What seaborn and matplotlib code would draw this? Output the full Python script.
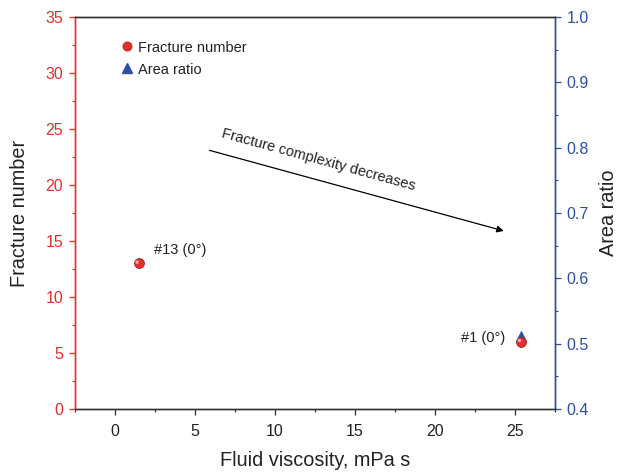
import matplotlib
matplotlib.use("Agg")
import matplotlib.pyplot as plt
from matplotlib.lines import Line2D
from matplotlib.ticker import MultipleLocator, FormatStrFormatter
import seaborn as sns
import pandas as pd

# Samples: fluid viscosity (mPa s), fracture number, area ratio
samples = ["#13 (0°)", "#1 (0°)"]
viscosity = [1.5, 25.4]
fracture_number = [13, 6]
area_viscosity = [25.4]
area_ratio = [0.512]

RED = "#e3302c"
BLUE = "#2b4fa3"

sns.set_style("ticks")
plt.rcParams["font.family"] = ["Liberation Sans", "DejaVu Sans"]

fig = plt.figure(figsize=(6.22, 4.73), dpi=100)
ax = fig.add_axes([0.1206, 0.1353, 0.7717, 0.8287])
ax2 = ax.twinx()

df_fn = pd.DataFrame({"visc": viscosity, "fn": fracture_number})
df_ar = pd.DataFrame({"visc": area_viscosity, "ar": area_ratio})

# area ratio (triangles) on the right axis, drawn beneath the spheres
sns.scatterplot(data=df_ar, x="visc", y="ar", ax=ax2, marker="^", s=55,
                color=BLUE, edgecolor=BLUE, linewidth=0.5, zorder=2)
ax2.set_zorder(ax.get_zorder() - 1)
ax.patch.set_visible(False)

# fracture number (shaded spheres) on the left axis
sns.scatterplot(data=df_fn, x="visc", y="fn", ax=ax, marker="o", s=50,
                color=RED, edgecolor="#b01c1a", linewidth=0.6, zorder=3)
ax.scatter([v - 0.12 for v in viscosity], [f + 0.12 for f in fracture_number],
           s=6, color="#ffb0a8", edgecolor="none", zorder=4)

ax.set_xlim(-2.5, 27.5)
ax.set_ylim(0, 35)
ax2.set_ylim(0.4, 1.0)

ax.xaxis.set_major_locator(MultipleLocator(5))
ax.xaxis.set_minor_locator(MultipleLocator(2.5))
ax.yaxis.set_major_locator(MultipleLocator(5))
ax.yaxis.set_minor_locator(MultipleLocator(2.5))
ax2.yaxis.set_major_locator(MultipleLocator(0.1))
ax2.yaxis.set_minor_locator(MultipleLocator(0.05))
ax2.yaxis.set_major_formatter(FormatStrFormatter("%.1f"))

for a in (ax, ax2):
    a.tick_params(which="major", direction="out", length=4.5, width=0.9,
                  labelsize=11.5, pad=4)
    a.tick_params(which="minor", direction="out", length=2.5, width=0.8)
    for s in a.spines.values():
        s.set_linewidth(1.0)
        s.set_color("#333333")

ax.tick_params(axis="x", colors="#333333", labelcolor="#222222", pad=6)
ax.tick_params(axis="y", which="both", colors=RED, labelcolor=RED)
ax2.tick_params(axis="y", which="both", colors=BLUE, labelcolor=BLUE)
ax.spines["left"].set_color(RED)
ax2.spines["left"].set_color(RED)
ax2.spines["right"].set_color(BLUE)
ax.spines["right"].set_color(BLUE)

ax.set_xlabel("Fluid viscosity, mPa s", fontsize=14.3, color="#222222", labelpad=9)
ax.set_ylabel("Fracture number", fontsize=14.3, color="#222222", labelpad=12)
ax2.set_ylabel("Area ratio", fontsize=14.3, color="#222222", labelpad=7)

# sample labels
ax.text(viscosity[0] + 0.95, fracture_number[0] + 1.2, samples[0], fontsize=10.5,
        color="#222222", ha="left", va="center")
ax.text(viscosity[1] - 1.0, fracture_number[1] + 0.3, samples[1], fontsize=10.5,
        color="#222222", ha="right", va="center")

# trend arrow
ax.annotate("", xy=(24.3, 15.9), xytext=(5.9, 23.1),
            arrowprops=dict(arrowstyle="-|>", color="black", lw=0.9,
                            mutation_scale=10, shrinkA=0, shrinkB=0))
ax.text(12.6, 21.6, "Fracture complexity decreases", fontsize=10.5, color="#222222",
        rotation=-15.4, rotation_mode="anchor", ha="center", va="bottom")

handles = [
    Line2D([], [], marker="o", linestyle="none", markersize=6.5,
           markerfacecolor=RED, markeredgecolor="#b01c1a", markeredgewidth=0.6),
    Line2D([], [], marker="^", linestyle="none", markersize=7,
           markerfacecolor=BLUE, markeredgecolor=BLUE),
]
leg = ax.legend(handles, ["Fracture number", "Area ratio"], loc="upper left",
                bbox_to_anchor=(0.08, 0.955), frameon=False, fontsize=10.5,
                handletextpad=0.3, handlelength=1.0, labelspacing=0.55,
                borderaxespad=0)
for t in leg.get_texts():
    t.set_color("#222222")

fig.savefig("out.png", dpi=100)
